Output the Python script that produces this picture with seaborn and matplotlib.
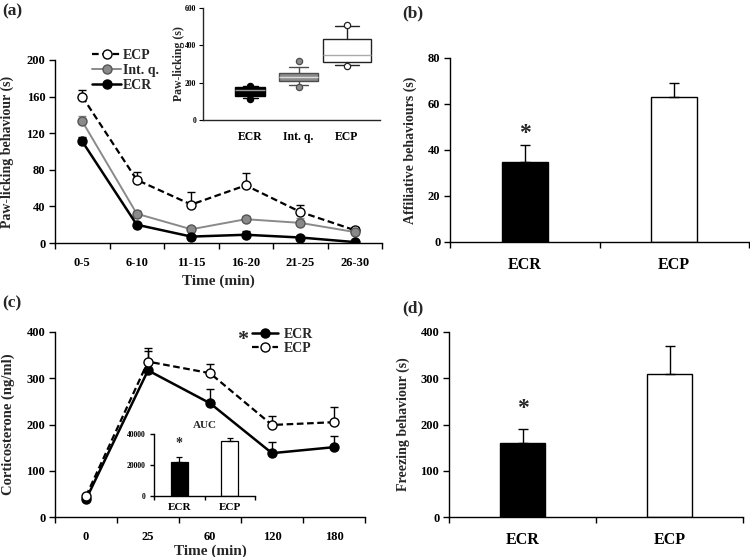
import numpy as np
import pandas as pd
import matplotlib
matplotlib.use("Agg")
import matplotlib.pyplot as plt
from matplotlib.ticker import FixedLocator, NullFormatter
import seaborn as sns

# ---------------- data ----------------
# (a) paw-licking time course
intervals = ["0-5", "6-10", "11-15", "16-20", "21-25", "26-30"]
ecp_paw = [160, 69, 42, 63, 34, 14]
ecp_paw_err = [7, 9, 14, 13, 8, 3]
intq_paw = [133, 32, 15, 26, 22, 12]
intq_paw_err = [6, 3, 2, 3, 5, 3]
ecr_paw = [111, 20, 7, 9, 6, 1]
ecr_paw_err = [5, 2, 2, 4, 2, 1]

# (a) inset box summary
box_groups = ["ECR", "Int. q.", "ECP"]
box_q1 = [128, 210, 312]
box_med = [161, 230, 348]
box_q3 = [175, 254, 434]
box_lo = [118, 190, 296]
box_hi = [180, 286, 505]
box_fliers = [[114, 182], [179, 314], [288, 511]]

# (b) affiliative behaviours
groups = ["ECR", "ECP"]
affil = [35, 63]
affil_err = [7, 6]

# (c) corticosterone
times = ["0", "25", "60", "120", "180"]
ecr_cort = [38, 317, 246, 138, 151]
ecr_cort_err = [3, 42, 31, 25, 24]
ecp_cort = [45, 336, 311, 199, 205]
ecp_cort_err = [3, 30, 20, 19, 33]
auc = [22000, 35800]
auc_err = [3000, 1800]

# (d) freezing
freezing = [160, 310]
freezing_err = [31, 59]

# ---------------- style ----------------
sns.set_style("ticks")
plt.rcParams["font.family"] = ["Liberation Serif", "DejaVu Serif"]
plt.rcParams["font.weight"] = "bold"
plt.rcParams["axes.labelweight"] = "bold"
plt.rcParams["axes.linewidth"] = 1.0
plt.rcParams["xtick.color"] = "black"
plt.rcParams["ytick.color"] = "black"

W, H = 750, 557
fig = plt.figure(figsize=(7.5, 5.57), dpi=100)


def px_axes(l, t, r, b):
    return fig.add_axes([l / W, 1 - b / H, (r - l) / W, (b - t) / H])


def style_axes(ax, n, ylim, yticks, fs_tick=9, fs_cat=9, ticklen=4, xpad=10):
    sns.despine(ax=ax)
    for s in ("left", "bottom"):
        ax.spines[s].set_color("black")
    ax.set_xlim(-0.5, n - 0.5)
    ax.set_ylim(*ylim)
    ax.set_yticks(yticks)
    ax.xaxis.set_minor_locator(FixedLocator(np.arange(-0.5, n, 1.0)))
    ax.xaxis.set_minor_formatter(NullFormatter())
    ax.tick_params(axis="x", which="major", length=0, labelsize=fs_cat, pad=xpad)
    ax.tick_params(axis="x", which="minor", length=ticklen, width=1, direction="out")
    ax.tick_params(axis="y", which="major", length=ticklen, width=1, direction="out",
                   labelsize=fs_tick, pad=3)
    for lab in ax.get_xticklabels() + ax.get_yticklabels():
        lab.set_fontweight("bold")


def series(ax, y, err, color, ls, mfc, mec, label, lw=1.5, ms=6.5, ecolor=None):
    df = pd.DataFrame({"x": np.arange(len(y)), "y": y})
    sns.lineplot(data=df, x="x", y="y", ax=ax, color=color, linestyle=ls, marker="o",
                 markersize=ms, markerfacecolor=mfc, markeredgecolor=mec,
                 markeredgewidth=1, linewidth=lw, label=label, zorder=3)
    ax.errorbar(np.arange(len(y)), y, yerr=[np.zeros(len(y)), err], fmt="none",
                ecolor=ecolor or color, elinewidth=1, capsize=3, capthick=1, zorder=2)


# ---------------- (a) ----------------
axA = px_axes(55, 60, 382, 243)
series(axA, ecp_paw, ecp_paw_err, "black", (0, (3, 1.6)), "white", "black", "ECP", lw=1.6)
series(axA, intq_paw, intq_paw_err, "#8a8a8a", "-", "#8a8a8a", "#555555", "Int. q.", lw=1.4)
series(axA, ecr_paw, ecr_paw_err, "black", "-", "black", "black", "ECR", lw=1.8)
axA.set_xticks(range(len(intervals)))
axA.set_xticklabels(intervals)
style_axes(axA, len(intervals), (0, 200), [0, 40, 80, 120, 160, 200])
axA.set_xlabel("Time (min)", fontsize=11, fontweight="bold")
axA.set_ylabel("Paw-licking behaviour (s)", fontsize=10, fontweight="bold")
axA.xaxis.set_label_coords(0.5, -0.17)
axA.yaxis.set_label_coords(-0.125, 0.5)
h, l = axA.get_legend_handles_labels()
axA.legend(h, l, loc="upper left", bbox_to_anchor=(92 / W, 1 - 49 / H),
           bbox_transform=fig.transFigure, frameon=False,
           handlelength=2.1, handletextpad=0.1, labelspacing=0.15,
           borderpad=0, borderaxespad=0, prop={"weight": "bold", "size": 10})

# (a) inset boxplot
axAi = px_axes(203, 8, 380, 120)
stats = []
for i, g in enumerate(box_groups):
    stats.append(dict(label=g, q1=box_q1[i], med=box_med[i], q3=box_q3[i],
                      whislo=box_lo[i], whishi=box_hi[i], fliers=box_fliers[i]))
box_face = ["black", "#8c8c8c", "white"]
box_edge = ["black", "#4d4d4d", "#222222"]
box_medc = ["#9a9a9a", "#dddddd", "#aaaaaa"]
bp = axAi.bxp(stats, positions=[0, 1, 2], widths=[0.62, 0.8, 0.98], patch_artist=True,
              showfliers=True, manage_ticks=False)
for i in range(3):
    bp["boxes"][i].set(facecolor=box_face[i], edgecolor=box_edge[i], linewidth=1)
    bp["medians"][i].set(color=box_medc[i], linewidth=1)
    for w in bp["whiskers"][2 * i:2 * i + 2] + bp["caps"][2 * i:2 * i + 2]:
        w.set(color=box_edge[i], linewidth=1)
    bp["fliers"][i].set(marker="o", markersize=4.5, markerfacecolor=box_face[i],
                        markeredgecolor=box_edge[i], markeredgewidth=0.9)
sns.despine(ax=axAi)
axAi.set_xlim(-0.97, 2.68)
axAi.set_ylim(0, 600)
axAi.set_yticks([0, 200, 400, 600])
axAi.set_xticks([0, 1, 2])
axAi.set_xticklabels(box_groups)
axAi.tick_params(axis="x", length=0, labelsize=8.5, pad=8)
axAi.tick_params(axis="y", length=3, width=0.8, labelsize=5.5, pad=2)
for lab in axAi.get_xticklabels() + axAi.get_yticklabels():
    lab.set_fontweight("bold")
axAi.set_ylabel("Paw-licking (s)", fontsize=8.5, fontweight="bold")
axAi.yaxis.set_label_coords(-0.1, 0.5)
axAi.patch.set_alpha(0)

# ---------------- (b) ----------------
axB = px_axes(450, 58, 749, 242)
dfB = pd.DataFrame({"group": groups, "val": affil})
sns.barplot(data=dfB, x="group", y="val", hue="group", palette={"ECR": "black", "ECP": "white"},
            edgecolor="black", linewidth=1, width=0.31, errorbar=None, legend=False, ax=axB)
axB.errorbar(range(2), affil, yerr=[[0, 0], affil_err], fmt="none", ecolor="black",
             elinewidth=1, capsize=3.5, capthick=1, zorder=3)
style_axes(axB, 2, (0, 80), [0, 20, 40, 60, 80], fs_cat=11.5, xpad=11)
axB.set_xlabel("")
axB.set_ylabel("Affiliative behaviours (s)", fontsize=10, fontweight="bold")
axB.yaxis.set_label_coords(-0.11, 0.5)
axB.text(0, 47, "*", ha="center", va="center", fontsize=17, fontweight="bold")

# ---------------- (c) ----------------
axC = px_axes(55, 332, 365, 517)
series(axC, ecr_cort, ecr_cort_err, "black", "-", "black", "black", "ECR", lw=1.8)
series(axC, ecp_cort, ecp_cort_err, "black", (0, (3, 1.6)), "white", "black", "ECP", lw=1.6)
axC.set_xticks(range(len(times)))
axC.set_xticklabels(times)
style_axes(axC, len(times), (0, 400), [0, 100, 200, 300, 400])
axC.set_xlabel("Time (min)", fontsize=11, fontweight="bold")
axC.set_ylabel("Corticosterone (ng/ml)", fontsize=10.5, fontweight="bold")
axC.xaxis.set_label_coords(0.5, -0.15)
axC.yaxis.set_label_coords(-0.13, 0.5)
h, l = axC.get_legend_handles_labels()
axC.legend(h, l, loc="upper left", bbox_to_anchor=(252 / W, 1 - 328 / H),
           bbox_transform=fig.transFigure, frameon=False,
           handlelength=1.9, handletextpad=0.4, labelspacing=0.05,
           borderpad=0, borderaxespad=0, prop={"weight": "bold", "size": 10})
fig.text(243 / W, 1 - 340 / H, "*", ha="center", va="center", fontsize=16, fontweight="bold")

# (c) inset AUC
axCi = px_axes(154, 434, 255, 496)
dfA = pd.DataFrame({"group": groups, "val": auc})
sns.barplot(data=dfA, x="group", y="val", hue="group", palette={"ECR": "black", "ECP": "white"},
            edgecolor="black", linewidth=0.9, width=0.34, errorbar=None, legend=False, ax=axCi)
axCi.errorbar(range(2), auc, yerr=[[0, 0], auc_err], fmt="none", ecolor="black",
              elinewidth=0.9, capsize=2.5, capthick=0.9, zorder=3)
style_axes(axCi, 2, (0, 40000), [0, 20000, 40000], fs_tick=5.5, fs_cat=8, ticklen=3, xpad=5)
axCi.set_xlabel("")
axCi.set_ylabel("")
axCi.set_title("AUC", fontsize=8, fontweight="bold", pad=4)
axCi.text(0, 34000, "*", ha="center", va="center", fontsize=10, fontweight="bold")
axCi.patch.set_alpha(0)

# ---------------- (d) ----------------
axD = px_axes(449, 332, 743, 517)
dfD = pd.DataFrame({"group": groups, "val": freezing})
sns.barplot(data=dfD, x="group", y="val", hue="group", palette={"ECR": "black", "ECP": "white"},
            edgecolor="black", linewidth=1, width=0.31, errorbar=None, legend=False, ax=axD)
axD.errorbar(range(2), freezing, yerr=[[0, 0], freezing_err], fmt="none", ecolor="black",
             elinewidth=1, capsize=3.5, capthick=1, zorder=3)
style_axes(axD, 2, (0, 400), [0, 100, 200, 300, 400], fs_cat=11.5, xpad=11)
axD.set_xlabel("")
axD.set_ylabel("Freezing behaviour (s)", fontsize=10, fontweight="bold")
axD.yaxis.set_label_coords(-0.133, 0.5)
axD.text(0, 235, "*", ha="center", va="center", fontsize=17, fontweight="bold")

# panel letters
for x, y, s in [(2, 11, "(a)"), (402, 13, "(b)"), (2, 303, "(c)"), (402, 308, "(d)")]:
    fig.text(x / W, 1 - y / H, s, ha="left", va="center", fontsize=12.5, fontweight="bold")

fig.savefig("out.png", dpi=100)
